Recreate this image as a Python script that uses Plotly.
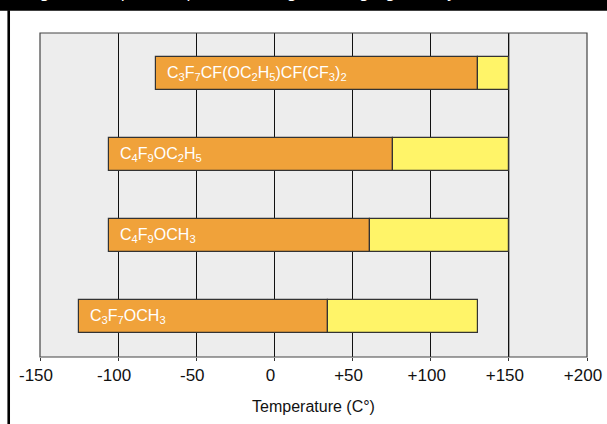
import plotly.graph_objects as go

# Data
compounds = [
    "C<sub>3</sub>F<sub>7</sub>OCH<sub>3</sub>",
    "C<sub>4</sub>F<sub>9</sub>OCH<sub>3</sub>",
    "C<sub>4</sub>F<sub>9</sub>OC<sub>2</sub>H<sub>5</sub>",
    "C<sub>3</sub>F<sub>7</sub>CF(OC<sub>2</sub>H<sub>5</sub>)CF(CF<sub>3</sub>)<sub>2</sub>",
]
low_temp = [-125, -106, -106, -76]     # left end of orange bar
boil_temp = [34, 61, 76, 130]          # orange / yellow boundary
max_temp = [130, 150, 150, 150]        # right end of yellow bar

tick_vals = [-150, -100, -50, 0, 50, 100, 150, 200]
tick_text = ["-150", "-100", "-50", "0", "+50", "+100", "+150", "+200"]
axis_title = "Temperature (C°)"
fig_title = "Figure 2. Liquid temperature ranges of segregated hydrofluoroethers"

FONT = "Liberation Sans, Arial, sans-serif"
ORANGE = "#F0A23A"
YELLOW = "#FFF468"

ypos = list(range(len(compounds)))

fig = go.Figure()
fig.add_trace(go.Bar(
    y=ypos, base=low_temp,
    x=[b - l for b, l in zip(boil_temp, low_temp)],
    orientation="h", width=0.41,
    marker=dict(color=ORANGE, line=dict(color="#333333", width=1.2)),
    hoverinfo="skip", showlegend=False,
))
fig.add_trace(go.Bar(
    y=ypos, base=boil_temp,
    x=[m - b for m, b in zip(max_temp, boil_temp)],
    orientation="h", width=0.41,
    marker=dict(color=YELLOW, line=dict(color="#333333", width=1.2)),
    hoverinfo="skip", showlegend=False,
))

for i, (name, lo) in enumerate(zip(compounds, low_temp)):
    fig.add_annotation(
        x=lo, y=i, xref="x", yref="y", text=name, showarrow=False,
        xanchor="left", yanchor="middle", xshift=9,
        font=dict(family=FONT, size=16, color="white"),
    )

# gray gridline at +150
fig.add_shape(type="line", xref="x", yref="paper", x0=150, x1=150, y0=0, y1=1,
              line=dict(color="#777777", width=1.5), layer="below")

# plot frame
fig.add_shape(type="rect", xref="paper", yref="paper", x0=0, x1=1, y0=0, y1=1,
              line=dict(color="#444444", width=1.2), layer="above")

# black band at top and black rule at left
fig.add_shape(type="rect", xref="paper", yref="paper", x0=-0.2, x1=1.2,
              y0=1.0688, y1=1.3, line=dict(width=0), fillcolor="black", layer="above")
fig.add_shape(type="line", xref="paper", yref="paper", x0=-0.0572, x1=-0.0572,
              y0=1.07, y1=-0.3, line=dict(color="black", width=2.6), layer="above")

fig.add_annotation(
    x=0.48, y=1.091, xref="paper", yref="paper", text=fig_title, showarrow=False,
    xanchor="center", yanchor="bottom",
    font=dict(family="DejaVu Sans, sans-serif", size=16, color="white"),
)

fig.update_layout(
    width=607, height=424,
    margin=dict(l=40, r=20, t=33, b=67, autoexpand=False),
    paper_bgcolor="white", plot_bgcolor="#EDEDED",
    barmode="overlay", bargap=0,
    font=dict(family=FONT, color="#111111"),
    xaxis=dict(
        range=[-150, 200], tickvals=tick_vals, ticktext=tick_text,
        tickfont=dict(family=FONT, size=17, color="#111111"),
        ticklabeloverflow="allow", ticklabelshift=-4, automargin=False,
        showgrid=True, gridcolor="#111111", gridwidth=1,
        zeroline=False, showline=False,
        ticks="outside", ticklen=3, tickcolor="#333333",
        title=dict(text=axis_title, font=dict(family=FONT, size=16, color="#111111"), standoff=16),
    ),
    yaxis=dict(
        range=[-0.5, 3.5], showticklabels=False, showgrid=False,
        zeroline=False, ticks="", showline=False, automargin=False,
    ),
)

fig.write_html(
    "out.html",
    config={"displayModeBar": False, "responsive": False},
    post_script="document.body.style.margin='0';document.body.style.overflow='hidden';",
)
